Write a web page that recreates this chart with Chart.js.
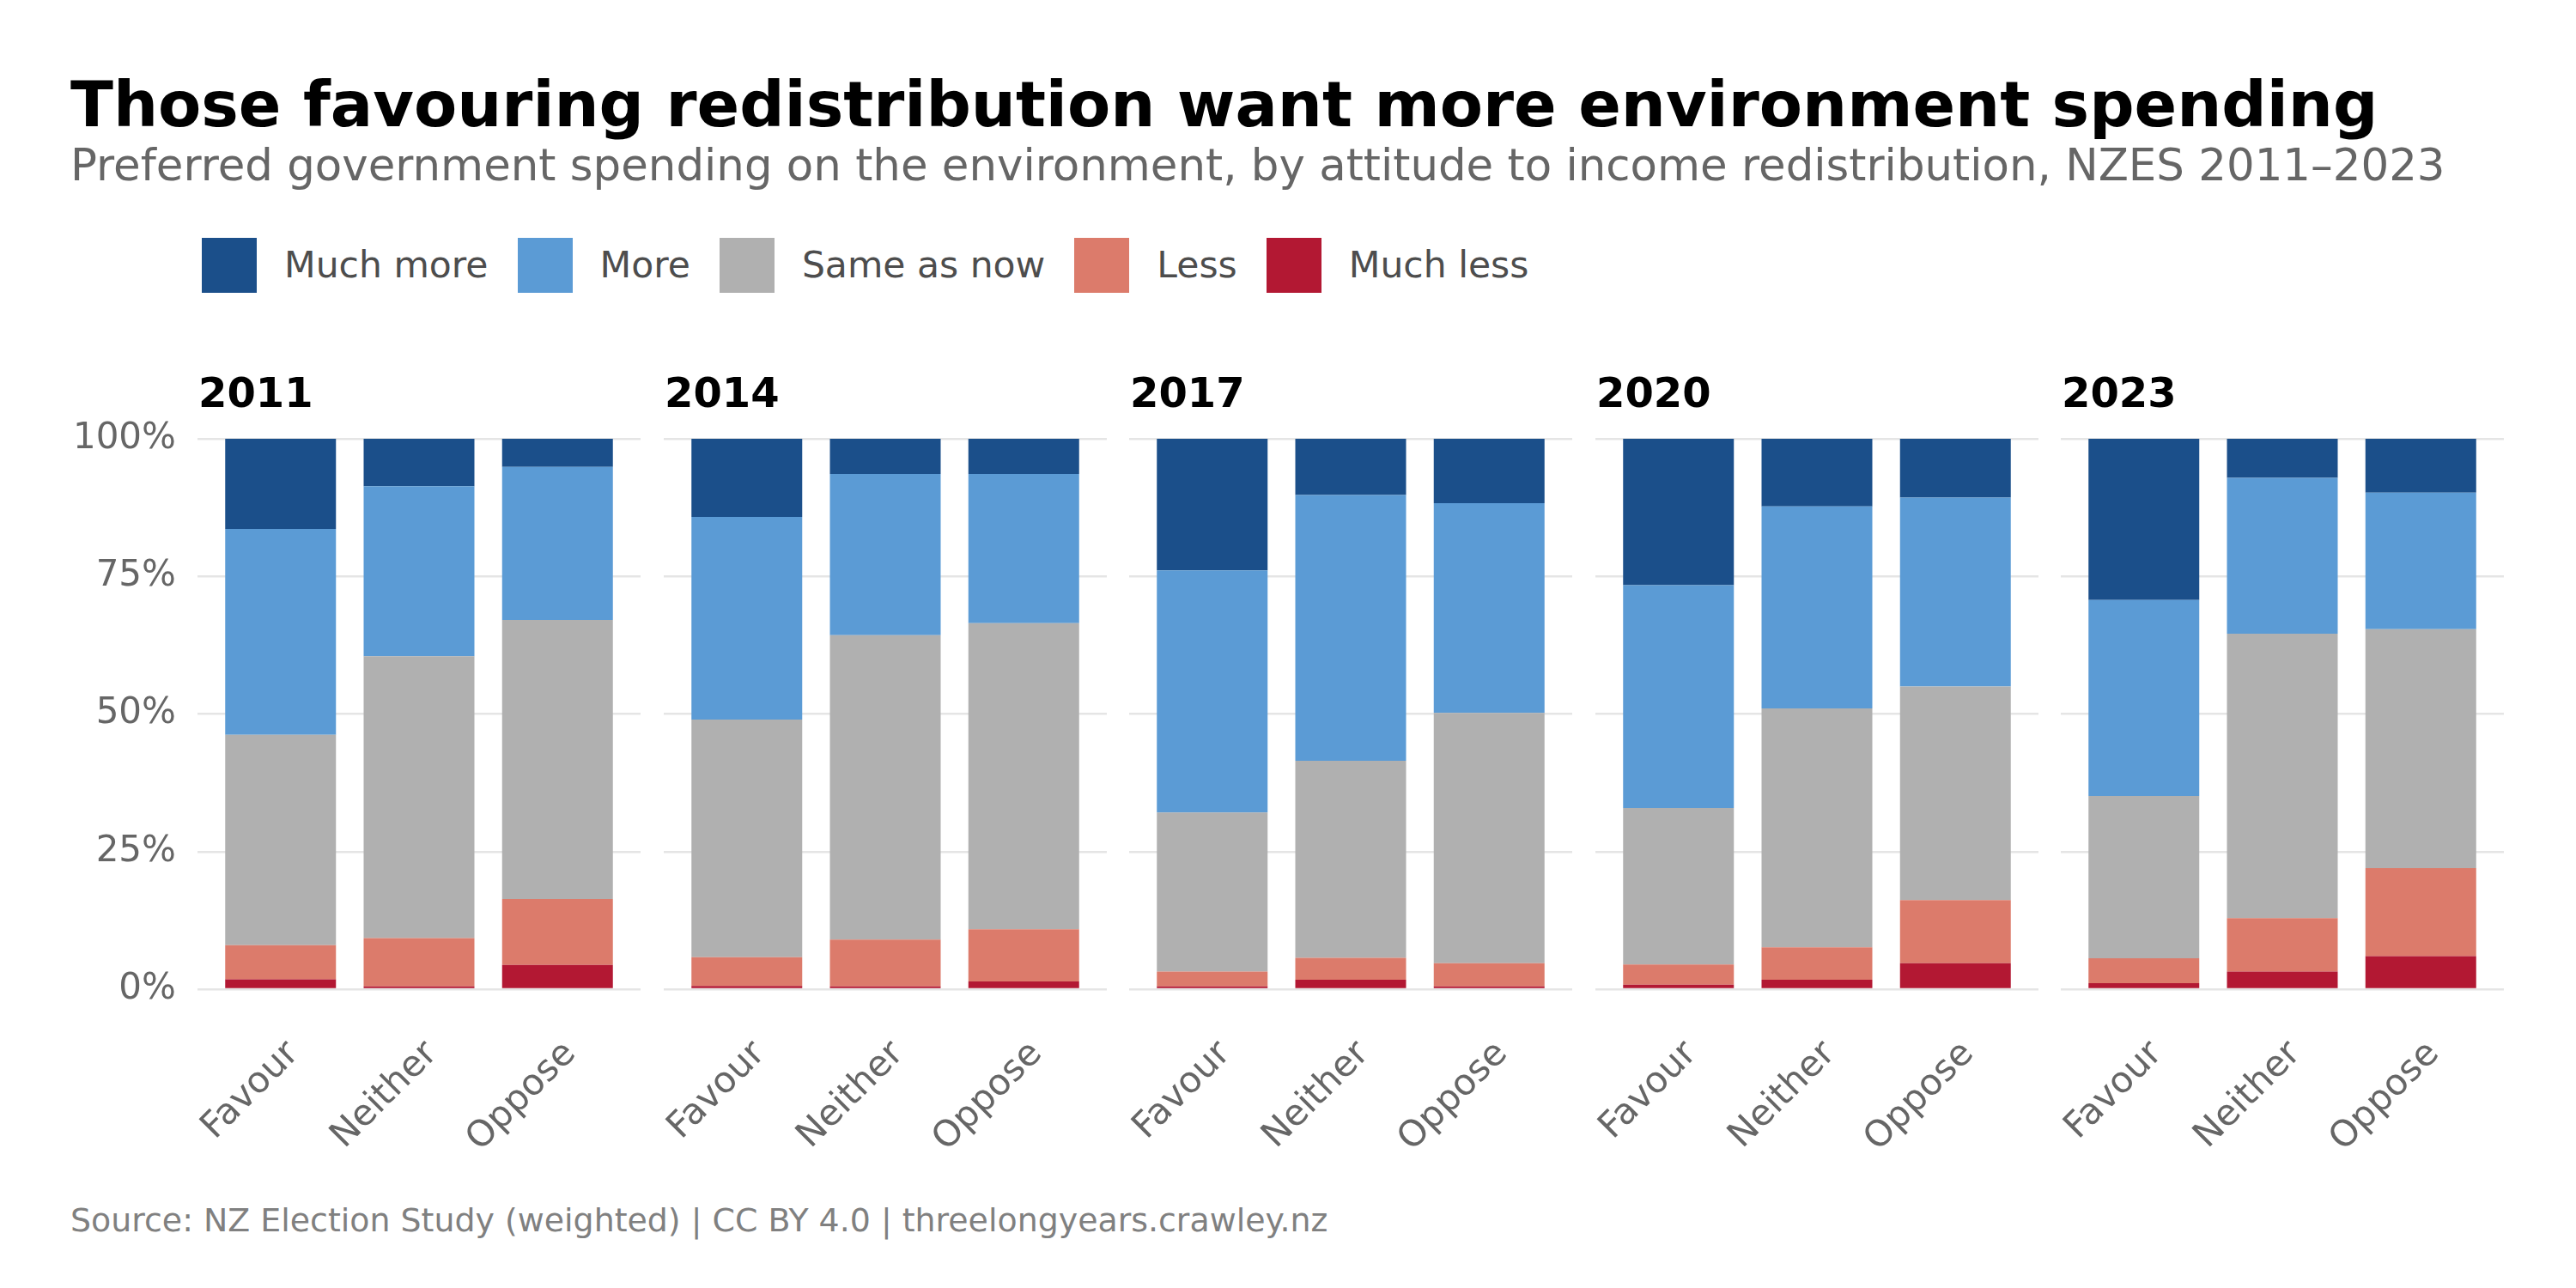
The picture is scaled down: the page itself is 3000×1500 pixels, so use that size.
<!DOCTYPE html>
<html>
<head>
<meta charset="utf-8">
<script src="https://cdn.jsdelivr.net/npm/chart.js@4.4.1/dist/chart.umd.min.js"></script>
<style>
  body { margin: 0; background: #fff; width: 3000px; height: 1500px; position: relative; overflow: hidden; font-family: "DejaVu Sans", sans-serif; }
  .abs { position: absolute; white-space: nowrap; line-height: 1; }
  #title { left: 82px; top: 85px; font-size: 73.2px; font-weight: bold; color: #000; }
  #subtitle { left: 82px; top: 167px; font-size: 51.4px; color: #666; }
  #legend { left: 235px; top: 277px; display: flex; align-items: center; }
  .item { display: flex; align-items: center; margin-right: 34px; }
  .swatch { width: 64px; height: 64px; margin-right: 32px; }
  .label { font-size: 42.5px; color: #4d4d4d; }
  #caption { left: 82px; top: 1403px; font-size: 37.9px; color: #808080; }
  canvas { position: absolute; }
</style>
</head>
<body>
<div id="title" class="abs">Those favouring redistribution want more environment spending</div>
<div id="subtitle" class="abs">Preferred government spending on the environment, by attitude to income redistribution, NZES 2011–2023</div>
<div id="legend" class="abs"></div>
<div id="caption" class="abs">Source: NZ Election Study (weighted) | CC BY 4.0 | threelongyears.crawley.nz</div>

<script>
const years = ["2011", "2014", "2017", "2020", "2023"];
const attitudes = ["Favour", "Neither", "Oppose"];
const responses = ["Much more", "More", "Same as now", "Less", "Much less"];

// % of respondents, one row per year: Favour, Neither, Oppose
const muchMore  = [[16.4, 8.6, 5.1], [14.2, 6.4, 6.4], [23.9, 10.2, 11.7], [26.6, 12.3, 10.7], [29.3, 7.1, 9.8]];
const more      = [[37.4, 30.9, 27.8], [36.8, 29.3, 27.1], [44.0, 48.3, 38.1], [40.5, 36.7, 34.3], [35.6, 28.3, 24.8]];
const sameAsNow = [[38.2, 51.2, 50.7], [43.2, 55.3, 55.6], [28.9, 35.8, 45.5], [28.4, 43.4, 38.8], [29.5, 51.7, 43.4]];
const less      = [[6.2, 8.8, 12.0], [5.2, 8.5, 9.5], [2.7, 4.0, 4.2], [3.7, 5.9, 11.5], [4.5, 9.7, 16.0]];
const muchLess  = [[1.8, 0.5, 4.4], [0.6, 0.5, 1.4], [0.5, 1.7, 0.5], [0.8, 1.7, 4.7], [1.1, 3.2, 6.0]];
const yTicks = [0, 25, 50, 75, 100];

const colours = ["#1b4f8a", "#5b9bd5", "#b0b0b0", "#dc7b6b", "#b31833"];

Chart.defaults.font.family = "'DejaVu Sans', sans-serif";

// legend (top row, Much more first)
const legend = document.getElementById("legend");
responses.forEach((r, k) => {
  const item = document.createElement("div");
  item.className = "item";
  item.innerHTML = `<div class="swatch" style="background:${colours[k]}"></div><span class="label">${r}</span>`;
  legend.appendChild(item);
});

// stacked bottom to top
const stackOrder = [muchLess, less, sameAsNow, more, muchMore];

const panelTitle = {
  id: "panelTitle",
  afterDraw(chart, args, opts) {
    const ctx = chart.ctx;
    ctx.save();
    ctx.font = "bold 48px 'DejaVu Sans'";
    ctx.fillStyle = "#000";
    ctx.textBaseline = "alphabetic";
    ctx.fillText(opts.text, chart.chartArea.left + 1, 54);
    ctx.restore();
  }
};

const panelWidth = 516;

years.forEach((year, i) => {
  const first = i === 0;
  const axisW = first ? 230 : 0;
  const padLeft = first ? 0 : 70;
  const chartLeft = Math.round(230 + i * 542.6);

  const canvas = document.createElement("canvas");
  canvas.width = axisW + padLeft + panelWidth + 20;
  canvas.height = 960;
  canvas.style.left = (chartLeft - axisW - padLeft) + "px";
  canvas.style.top = "420px";
  document.body.appendChild(canvas);

  new Chart(canvas, {
    type: "bar",
    data: {
      datasets: stackOrder.map((s, k) => ({
        label: responses[4 - k],
        data: s[i].map((v, j) => ({ x: j, y: v })),
        backgroundColor: colours[4 - k],
        borderWidth: 0,
        categoryPercentage: 1,
        barPercentage: 0.8
      }))
    },
    plugins: [panelTitle],
    options: {
      responsive: false,
      animation: false,
      devicePixelRatio: 1,
      events: [],
      layout: { padding: { top: 91, left: padLeft, right: 20, bottom: 0 } },
      plugins: {
        legend: { display: false },
        tooltip: { enabled: false },
        panelTitle: { text: year }
      },
      scales: {
        x: {
          type: "linear",
          min: -0.6,
          max: 2.6,
          stacked: true,
          offset: false,
          grid: { display: false, offset: false },
          border: { display: false },
          afterBuildTicks: s => { s.ticks = attitudes.map((a, j) => ({ value: j })); },
          ticks: {
            autoSkip: false,
            maxRotation: 45,
            minRotation: 45,
            padding: 43,
            labelOffset: 15,
            color: "#666",
            font: { size: 42 },
            callback: v => attitudes[v]
          },
          afterFit: s => { s.height = 228; s.paddingLeft = 0; s.paddingRight = 0; }
        },
        y: {
          min: 0,
          max: 100,
          stacked: true,
          afterBuildTicks: s => { s.ticks = yTicks.map(v => ({ value: v })); },
          grid: { color: "#e5e5e5", lineWidth: 2.5, drawTicks: false },
          border: { display: false },
          ticks: {
            display: first,
            padding: 25,
            color: "#666",
            font: { size: 42 },
            callback: v => v + "%"
          },
          afterFit: s => { s.width = axisW; }
        }
      }
    }
  });
});
</script>
</body>
</html>
